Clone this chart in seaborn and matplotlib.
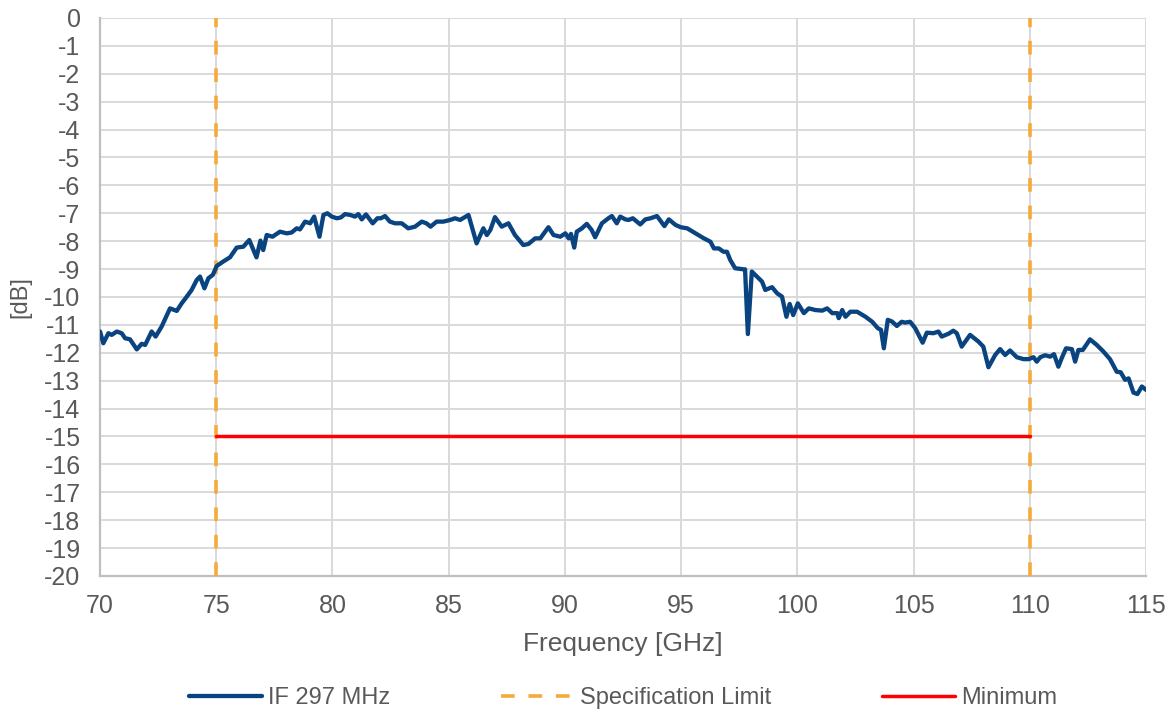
import numpy as np
import pandas as pd
import matplotlib
matplotlib.use("Agg")
import matplotlib.pyplot as plt
import seaborn as sns

freq = [70.00, 70.14, 70.36, 70.50, 70.72, 70.93, 71.08, 71.29, 71.58, 71.79, 71.94, 72.22, 72.39, 72.65,
        73.01, 73.30, 73.51, 73.73, 73.94, 74.16, 74.30, 74.49, 74.66, 74.85, 75.02, 75.30, 75.59, 75.88,
        76.16, 76.42, 76.73, 76.90, 77.02, 77.17, 77.42, 77.74, 78.03, 78.24, 78.46, 78.60, 78.82, 79.04,
        79.21, 79.44, 79.61, 79.78, 79.97, 80.19, 80.36, 80.54, 80.76, 80.97, 81.11, 81.26, 81.44, 81.73,
        81.93, 82.08, 82.26, 82.47, 82.69, 82.98, 83.26, 83.55, 83.84, 84.04, 84.22, 84.48, 84.77, 85.06,
        85.27, 85.49, 85.85, 86.20, 86.49, 86.64, 86.79, 86.99, 87.28, 87.57, 87.85, 88.21, 88.43, 88.72,
        88.94, 89.29, 89.51, 89.80, 90.02, 90.16, 90.26, 90.40, 90.51, 90.73, 90.94, 91.15, 91.30, 91.59,
        91.87, 92.02, 92.23, 92.38, 92.60, 92.74, 92.92, 93.24, 93.46, 93.68, 93.96, 94.28, 94.47, 94.76,
        94.98, 95.26, 95.62, 95.98, 96.26, 96.41, 96.62, 96.82, 96.97, 97.11, 97.32, 97.68, 97.75, 97.87,
        98.04, 98.26, 98.48, 98.62, 98.91, 99.13, 99.34, 99.53, 99.67, 99.82, 100.02, 100.28, 100.49,
        100.78, 101.07, 101.28, 101.50, 101.72, 101.78, 101.93, 102.07, 102.28, 102.57, 102.93, 103.22,
        103.46, 103.60, 103.72, 103.89, 104.07, 104.28, 104.49, 104.63, 104.85, 105.07, 105.39, 105.57,
        105.85, 106.07, 106.21, 106.50, 106.71, 106.86, 107.07, 107.43, 107.79, 108.00, 108.22, 108.51,
        108.72, 108.94, 109.15, 109.44, 109.73, 109.95, 110.16, 110.30, 110.45, 110.66, 110.88, 111.04,
        111.23, 111.38, 111.56, 111.81, 111.95, 112.09, 112.28, 112.59, 112.88, 113.17, 113.45, 113.74,
        113.91, 114.10, 114.25, 114.46, 114.63, 114.82, 115.00]
gain_db = [-11.24, -11.66, -11.30, -11.36, -11.24, -11.30, -11.48, -11.52, -11.88, -11.68, -11.72, -11.24,
           -11.42, -11.06, -10.41, -10.50, -10.23, -9.99, -9.75, -9.39, -9.27, -9.69, -9.33, -9.21, -8.89,
           -8.73, -8.58, -8.23, -8.20, -7.96, -8.58, -7.98, -8.32, -7.78, -7.84, -7.66, -7.72, -7.69, -7.54,
           -7.58, -7.30, -7.36, -7.12, -7.84, -7.06, -7.00, -7.12, -7.18, -7.15, -7.03, -7.06, -7.12, -7.03,
           -7.22, -7.04, -7.36, -7.18, -7.18, -7.10, -7.30, -7.36, -7.36, -7.54, -7.48, -7.30, -7.36, -7.48,
           -7.30, -7.30, -7.24, -7.18, -7.24, -7.06, -8.08, -7.54, -7.78, -7.60, -7.14, -7.48, -7.36, -7.78,
           -8.14, -8.10, -7.90, -7.90, -7.50, -7.78, -7.84, -7.72, -7.90, -7.74, -8.23, -7.66, -7.54, -7.38,
           -7.60, -7.86, -7.36, -7.18, -7.10, -7.36, -7.12, -7.22, -7.24, -7.18, -7.40, -7.22, -7.18, -7.10,
           -7.46, -7.22, -7.42, -7.50, -7.54, -7.72, -7.90, -8.02, -8.26, -8.26, -8.38, -8.38, -8.67, -8.97,
           -9.01, -9.01, -11.33, -9.09, -9.27, -9.45, -9.75, -9.65, -9.87, -9.99, -10.71, -10.25, -10.65,
           -10.23, -10.58, -10.41, -10.47, -10.49, -10.41, -10.58, -10.58, -10.76, -10.47, -10.71, -10.53,
           -10.53, -10.71, -10.89, -11.12, -11.18, -11.84, -10.82, -10.88, -11.04, -10.89, -10.92, -10.89,
           -11.12, -11.64, -11.28, -11.30, -11.24, -11.42, -11.32, -11.21, -11.30, -11.78, -11.36, -11.60,
           -11.78, -12.52, -12.08, -11.87, -12.08, -11.92, -12.16, -12.23, -12.23, -12.16, -12.32, -12.16,
           -12.09, -12.14, -12.05, -12.50, -12.18, -11.84, -11.87, -12.32, -11.90, -11.90, -11.52, -11.72,
           -11.96, -12.23, -12.68, -12.70, -12.97, -12.92, -13.43, -13.48, -13.21, -13.33]

spec_freq = [75, 110]
spec_span = [0, -20]
min_freq = [75, 110]
min_level = [-15, -15]

sns.set_style("whitegrid")
plt.rcParams["font.family"] = ["Liberation Sans", "DejaVu Sans"]
plt.rcParams["axes.unicode_minus"] = False

txt = "#595959"
blue = "#0a4480"
orange = "#f5ab3c"
red = "#ff0000"

fig = plt.figure(figsize=(11.73, 7.11), dpi=100)
ax = fig.add_axes([0.0853, 0.19, 0.8917, 0.7847])

df = pd.DataFrame({"f": freq, "g": gain_db})
sns.lineplot(data=df, x="f", y="g", ax=ax, color=blue, lw=3.1, label="IF 297 MHz",
             sort=False, estimator=None, solid_joinstyle="round", zorder=4)
for fx in spec_freq:
    sns.lineplot(x=[fx, fx], y=spec_span, ax=ax, color=orange, lw=2.6,
                 estimator=None, zorder=3,
                 label="Specification Limit" if fx == spec_freq[0] else None)
for l in ax.lines:
    if l.get_color() == orange:
        l.set_linestyle((0, (3.8, 3.8)))
sns.lineplot(x=min_freq, y=min_level, ax=ax, color=red, lw=2.5, label="Minimum",
             estimator=None, zorder=3)

ax.set_xlim(70, 115)
ax.set_ylim(-20, 0)
ax.set_xticks(np.arange(70, 116, 5))
ax.set_yticks(np.arange(-20, 1, 1))
ax.grid(True, color="#d9d9d9", lw=1.4)
for s in ["top", "right"]:
    ax.spines[s].set_visible(False)
for s in ["left", "bottom"]:
    ax.spines[s].set_color("#bfbfbf")
    ax.spines[s].set_linewidth(1.6)
ax.tick_params(colors=txt, labelsize=18, length=0)
ax.tick_params(axis="x", pad=13)
ax.tick_params(axis="y", pad=14)
ax.set_xlabel("Frequency [GHz]", color=txt, fontsize=19, labelpad=10)
ax.set_ylabel("[dB]", color=txt, fontsize=17, labelpad=9)

ax.get_legend().remove()
h, lab = ax.get_legend_handles_labels()
fig.legend(h, lab, loc="center", bbox_to_anchor=(0.531, 13 / 711), ncol=3, frameon=False,
           fontsize=17, labelcolor=txt, handlelength=3.1, handletextpad=0.25,
           columnspacing=4.7)

fig.savefig("out.png", dpi=100)
